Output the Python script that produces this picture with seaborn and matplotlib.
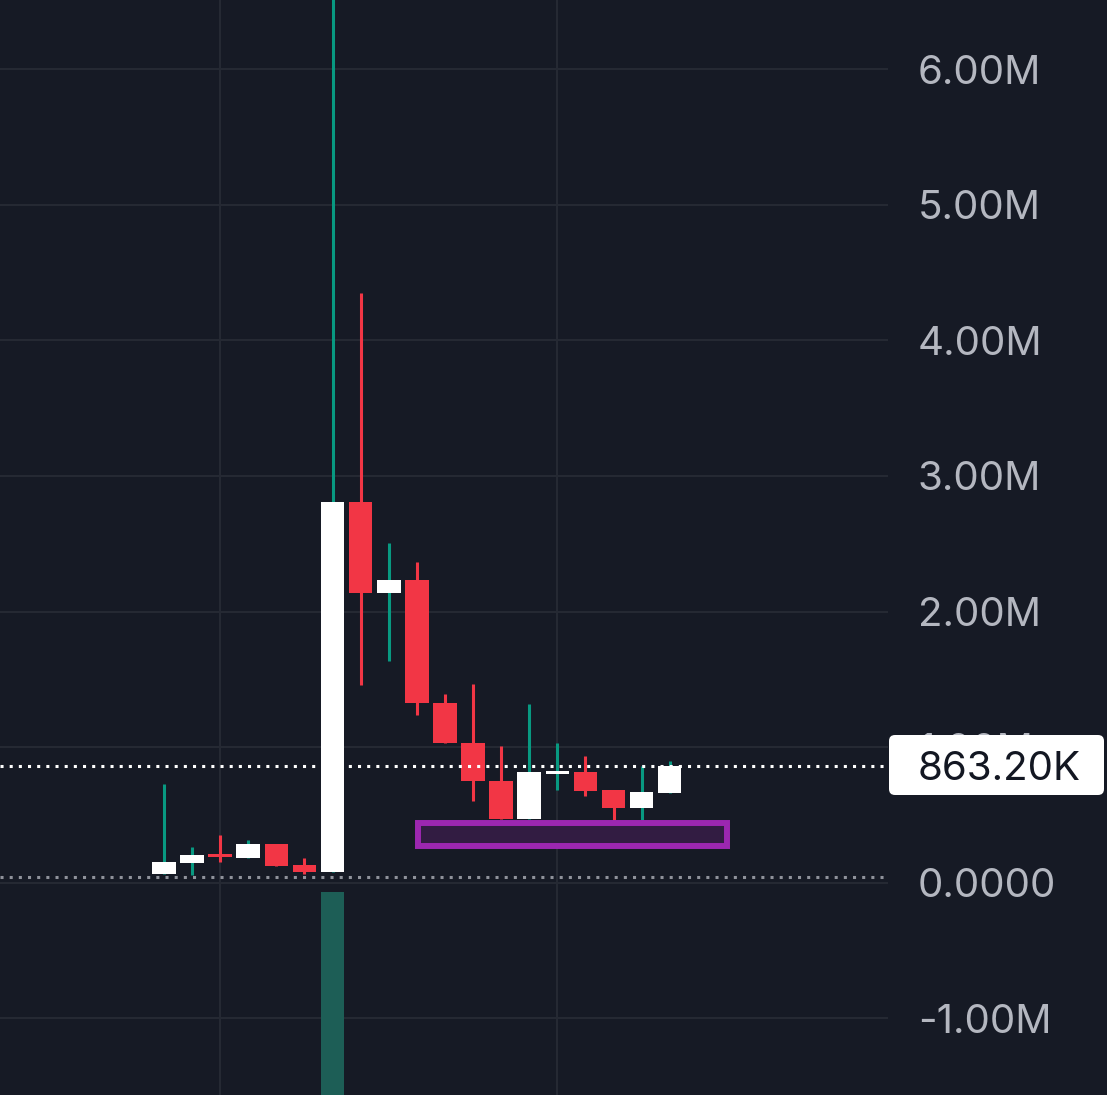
import matplotlib
matplotlib.use("Agg")
import matplotlib.pyplot as plt
from matplotlib.patches import FancyBboxPatch, Rectangle
import seaborn as sns
import pandas as pd

# ---- data (values in millions) ----
idx   = list(range(19))
opens  = [0.064, 0.148, 0.209, 0.184, 0.285, 0.131, 0.079, 2.810, 2.139, 2.233,
          1.328, 1.033, 0.752, 0.470, 0.804, 0.817, 0.684, 0.553, 0.664]
closes = [0.153, 0.204, 0.190, 0.285, 0.125, 0.079, 2.810, 2.139, 2.233, 1.328,
          1.033, 0.752, 0.470, 0.817, 0.824, 0.679, 0.553, 0.669, 0.8632]
highs  = [0.728, 0.263, 0.352, 0.315, 0.285, 0.182, 7.200, 4.352, 2.504, 2.366,
          1.392, 1.466, 1.008, 1.318, 1.030, 0.937, 0.684, 0.861, 0.898]
lows   = [0.064, 0.057, 0.155, 0.184, 0.125, 0.064, 0.079, 1.458, 1.638, 1.239,
          1.033, 0.605, 0.470, 0.470, 0.686, 0.640, 0.465, 0.465, 0.664]

vol_index = [6]
vol_top = [-0.07]

zone_x = [9.05, 20.05]
zone_y = [0.271, 0.441]

last_price = 0.8632
last_label = "863.20K"
baseline_price = 0.045

yticks = [-1, 0, 1, 2, 3, 4, 5, 6]
ytick_labels = ["-1.00M", "0.0000", "1.00M", "2.00M", "3.00M", "4.00M", "5.00M", "6.00M"]
vgrid_x = [2, 14]

df = pd.DataFrame({"i": idx, "open": opens, "close": closes, "high": highs, "low": lows})
df["bull"] = df["close"] >= df["open"]

BG = "#161a25"
GRID = "#252933"
RED = "#f23645"
GREEN = "#089981"
WHITE = "#ffffff"
TXT = "#b4b7c0"

sns.set_theme(style="dark", rc={"axes.facecolor": BG, "figure.facecolor": BG})
plt.rcParams["font.family"] = ["Inter", "DejaVu Sans"]

fig = plt.figure(figsize=(11.07, 10.95), dpi=100)
ax = fig.add_axes([0, 0, 888 / 1107, 1])
ax.set_facecolor(BG)

ax.set_xlim(-5.836, 25.77)
ax.set_ylim(-1.566, 6.511)

# grid
for y in yticks:
    ax.axhline(y, color=GRID, lw=1.5, zorder=0)
for x in vgrid_x:
    ax.axvline(x, color=GRID, lw=1.5, zorder=0)

# volume overlay bar
ax.bar(vol_index, [v - (-5) for v in vol_top], bottom=-5, width=0.85,
       color="#1d5e56", zorder=1, linewidth=0)

# wicks
wick_colors = [GREEN if b else RED for b in df["bull"]]
ax.vlines(df["i"], df["low"], df["high"], colors=wick_colors, lw=2.2, zorder=2)

# bodies
body_colors = [WHITE if b else RED for b in df["bull"]]
bottoms = df[["open", "close"]].min(axis=1)
heights = (df["open"] - df["close"]).abs()
ax.bar(df["i"], heights, bottom=bottoms, width=0.84, color=body_colors,
       linewidth=0, zorder=3)

# zone rectangle
ax.add_patch(Rectangle((zone_x[0], zone_y[0]), zone_x[1] - zone_x[0], zone_y[1] - zone_y[0],
                       facecolor="#321c42", edgecolor="#9c27b0", lw=4.3, zorder=4))

# price lines
ax.axhline(last_price, color=WHITE, lw=2.2, ls=(0, (1, 2)), zorder=5)
ax.axhline(baseline_price, color="#8f929b", lw=2.2, ls=(0, (1, 2)), zorder=5)

# axis
ax.yaxis.tick_right()
ax.set_yticks(yticks)
ax.set_yticklabels(ytick_labels)
ax.tick_params(axis="y", length=0, pad=21.6, labelsize=29, labelcolor=TXT)
for lab in ax.get_yticklabels():
    lab.set_horizontalalignment("left")
ax.set_xticks([])
for s in ax.spines.values():
    s.set_visible(False)
ax.grid(False)

# last price label box (covers the 1.00M label as in the original)
box = FancyBboxPatch((8.89, 3.00), 2.15, 0.60,
                     boxstyle="round,pad=0,rounding_size=0.06",
                     transform=fig.dpi_scale_trans, facecolor=WHITE,
                     edgecolor="none", zorder=10)
fig.patches.append(box)
fig.text(9.18, 3.30, last_label, transform=fig.dpi_scale_trans, ha="left",
         va="center_baseline", fontsize=29, color="#131722", zorder=11)

fig.savefig("out.png", dpi=100, facecolor=BG)
